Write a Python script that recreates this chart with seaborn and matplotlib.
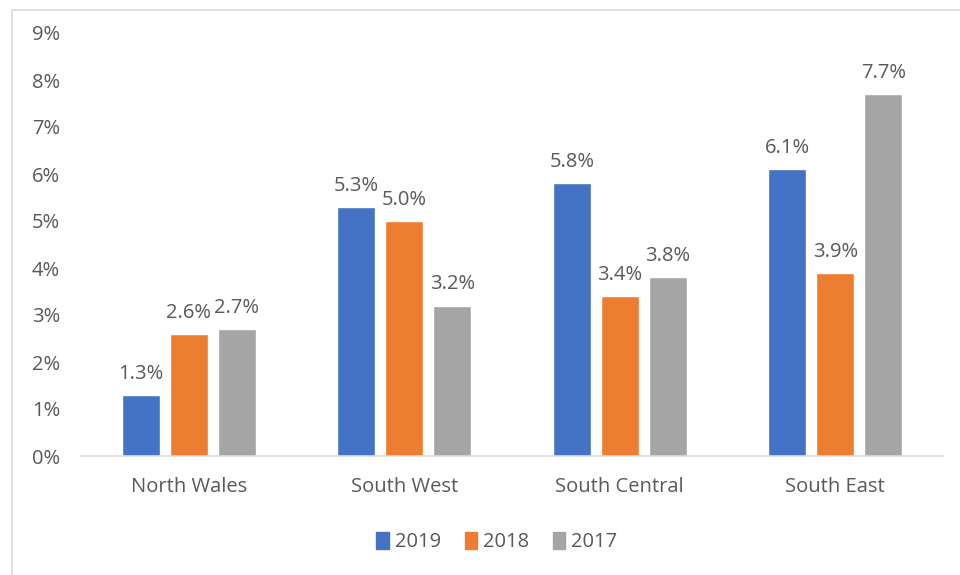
import pandas as pd
import numpy as np
import matplotlib
matplotlib.use("Agg")
import matplotlib.pyplot as plt
import seaborn as sns
from matplotlib.patches import Rectangle

regions = ["North Wales", "South West", "South Central", "South East"]
years = ["2019", "2018", "2017"]
v2019 = [1.3, 5.3, 5.8, 6.1]
v2018 = [2.6, 5.0, 3.4, 3.9]
v2017 = [2.7, 3.2, 3.8, 7.7]
colors = ["#4472C4", "#ED7D31", "#A5A5A5"]

df = pd.DataFrame({
    "region": regions * 3,
    "year": [y for y in years for _ in regions],
    "value": v2019 + v2018 + v2017,
})

sns.set_style("white")
plt.rcParams["font.family"] = ["Open Sans", "DejaVu Sans"]
text_col = "#595959"
fs = 14.5

fig = plt.figure(figsize=(9.6, 5.75), dpi=100)
ax = fig.add_axes([81 / 960, 1 - 456 / 575, 862 / 960, 423 / 575])

sns.barplot(data=df, x="region", y="value", hue="year", hue_order=years,
            palette=colors, width=0.668, gap=0.21, saturation=1, ax=ax,
            legend=False)

for cont in ax.containers:
    ax.bar_label(cont, labels=[f"{h:.1f}%" for h in cont.datavalues],
                 padding=8, fontsize=fs, color=text_col)

ax.set_ylim(0, 9)
ax.set_xlim(-0.5, 3.5)
ax.set_yticks(range(0, 10))
ax.set_yticklabels([f"{i}%" for i in range(0, 10)])
ax.set_xlabel("")
ax.set_ylabel("")
ax.tick_params(axis="both", length=0, labelsize=fs, labelcolor=text_col)
ax.tick_params(axis="y", pad=15)
ax.tick_params(axis="x", pad=15)
for s in ["top", "right", "left"]:
    ax.spines[s].set_visible(False)
ax.spines["bottom"].set_color("#D9D9D9")
ax.spines["bottom"].set_linewidth(1.2)

handles = [Rectangle((0, 0), 1, 1, color=c) for c in colors]
fig.legend(handles, years, loc="center", bbox_to_anchor=(497 / 960, 1 - 542 / 575),
           ncol=3, frameon=False, fontsize=fs, labelcolor=text_col,
           handlelength=0.6, handleheight=0.9, handletextpad=0.3, columnspacing=1.2)

# chart area border (cut-off frame)
fig.patches.append(Rectangle((12 / 960, -0.1), 1.2, 1 - 10 / 575 + 0.1,
                             transform=fig.transFigure, fill=False,
                             edgecolor="#D9D9D9", linewidth=1.2))

fig.savefig("out.png", dpi=100)
